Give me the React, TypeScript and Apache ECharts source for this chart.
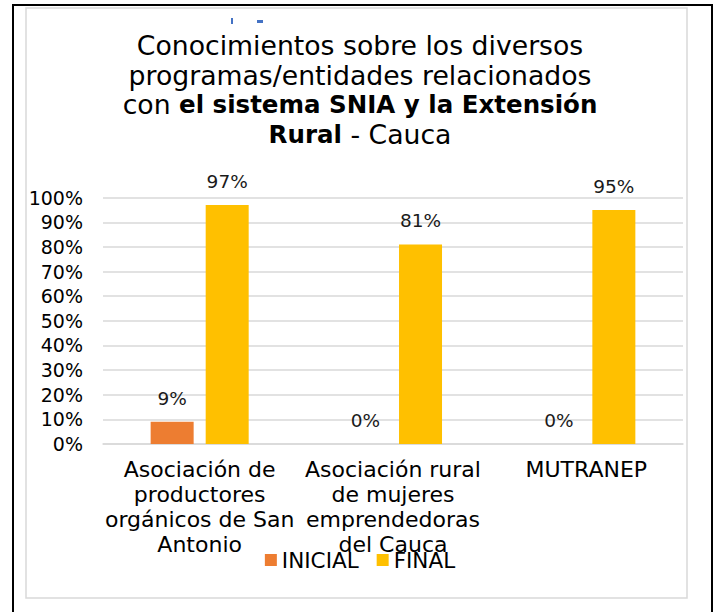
import React, { useEffect, useRef } from "react";
import * as echarts from "echarts";

const categories = [
  "Asociación de\nproductores\norgánicos de San\nAntonio",
  "Asociación rural\nde mujeres\nemprendedoras\ndel Cauca",
  "MUTRANEP",
];
const inicialValues = [9, 0, 0];
const finalValues = [97, 81, 95];
const seriesNames = ["INICIAL", "FINAL"];

const FONT = "'DejaVu Sans', sans-serif";

export default function App() {
  const ref = useRef<HTMLDivElement>(null);
  useEffect(() => {
    document.body.style.margin = "0";
    const chart = echarts.init(ref.current!, null, { renderer: "svg" });
    const labelStyle = {
      show: true,
      position: "top",
      distance: 14,
      formatter: "{c}%",
      fontSize: 18.5,
      color: "#1a1a1a",
      fontFamily: FONT,
    };
    chart.setOption({
      animation: false,
      backgroundColor: "#ffffff",
      title: {
        left: "center",
        top: 26,
        text:
          "{n|Conocimientos sobre los diversos}\n{n|programas/entidades relacionados}\n{n|con }{b|el sistema SNIA y la Extensión}\n{b|Rural}{n| - Cauca}",
        textStyle: {
          rich: {
            n: { fontSize: 26.7, lineHeight: 29.5, fontFamily: FONT, color: "#000", fontWeight: "normal" },
            b: { fontSize: 24.5, lineHeight: 29.5, fontFamily: FONT, color: "#000", fontWeight: "bold" },
          },
        },
      },
      legend: {
        data: seriesNames,
        bottom: 36,
        left: "center",
        itemWidth: 12,
        itemHeight: 12,
        itemGap: 18,
        icon: "rect",
        textStyle: { fontSize: 21.5, color: "#000", fontFamily: FONT },
      },
      grid: { left: 103, right: 37, top: 197.7, bottom: 168, containLabel: false },
      xAxis: {
        type: "category",
        data: categories,
        axisTick: { show: false },
        axisLine: { lineStyle: { color: "#d9d9d9", width: 1.5 } },
        axisLabel: {
          interval: 0,
          margin: 13,
          fontSize: 22,
          lineHeight: 25,
          color: "#000",
          fontFamily: FONT,
        },
      },
      yAxis: {
        type: "value",
        min: 0,
        max: 100,
        interval: 10,
        axisLine: { show: false },
        axisTick: { show: false },
        splitLine: { lineStyle: { color: "#d9d9d9", width: 1.5 } },
        axisLabel: {
          formatter: "{value}%",
          fontSize: 19,
          margin: 20,
          color: "#000",
          fontFamily: FONT,
        },
      },
      series: [
        {
          name: seriesNames[0],
          type: "bar",
          data: inicialValues,
          barWidth: 43,
          barGap: "28%",
          itemStyle: { color: "#ED7D31" },
          label: labelStyle,
        },
        {
          name: seriesNames[1],
          type: "bar",
          data: finalValues,
          barWidth: 43,
          barGap: "28%",
          itemStyle: { color: "#FFC000" },
          label: labelStyle,
        },
      ],
      graphic: [
        { type: "rect", shape: { x: 26, y: 8, width: 661, height: 590 }, style: { fill: "none", stroke: "#d9d9d9", lineWidth: 1.5 }, z: -1 },
        { type: "line", shape: { x1: 13, y1: 5, x2: 13, y2: 612 }, style: { stroke: "#000", lineWidth: 2 } },
        { type: "line", shape: { x1: 12, y1: 5, x2: 713, y2: 5 }, style: { stroke: "#000", lineWidth: 2 } },
        { type: "line", shape: { x1: 712, y1: 5, x2: 712, y2: 612 }, style: { stroke: "#000", lineWidth: 2 } },
        { type: "rect", shape: { x: 231, y: 18, width: 2, height: 6 }, style: { fill: "#4472C4" } },
        { type: "rect", shape: { x: 257, y: 20, width: 6, height: 3 }, style: { fill: "#4472C4" } },
      ],
    });
    return () => chart.dispose();
  }, []);
  return <div ref={ref} style={{ width: 720, height: 612 }} />;
}
